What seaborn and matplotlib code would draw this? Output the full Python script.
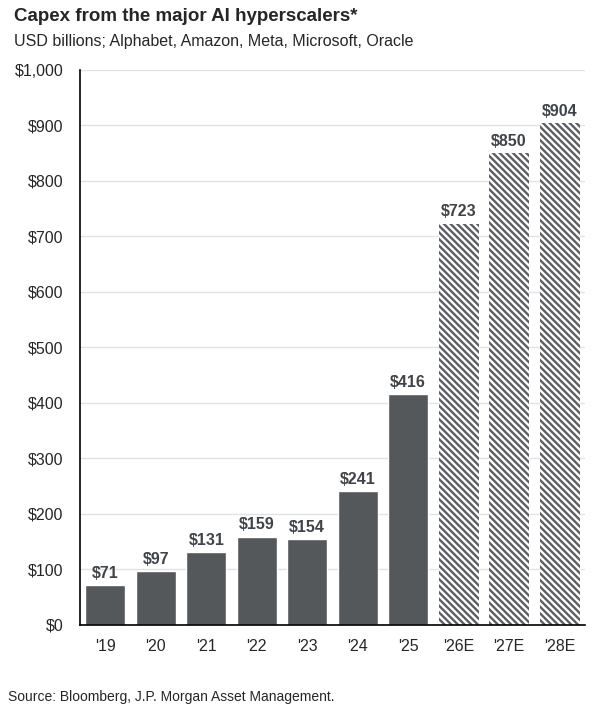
import numpy as np
import matplotlib
matplotlib.use("Agg")
import matplotlib.pyplot as plt
import seaborn as sns
import pandas as pd

years = ["'19", "'20", "'21", "'22", "'23", "'24", "'25", "'26E", "'27E", "'28E"]
capex = [71, 97, 131, 159, 154, 241, 416, 723, 850, 904]
is_estimate = [False] * 7 + [True] * 3

BAR = "#55585b"
STRIPE = "#5c5f62"

sns.set_style("white")
plt.rcParams["font.family"] = ["Liberation Sans", "DejaVu Sans"]
plt.rcParams["hatch.linewidth"] = 1.7
plt.rcParams["hatch.color"] = STRIPE

df = pd.DataFrame({"year": years, "capex": capex})

fig = plt.figure(figsize=(5.98, 7.06), dpi=100)
ax = fig.add_axes([0.134, 0.115, 0.844, 0.786])

sns.barplot(data=df, x="year", y="capex", color=BAR, width=0.79,
            saturation=1, ax=ax, zorder=2)

# estimates get the striped fill
for patch, est in zip(ax.patches, is_estimate):
    if est:
        patch.set_facecolor("white")
        patch.set_edgecolor(STRIPE)
        patch.set_linewidth(0)
        patch.set_hatch("\\\\\\\\\\")

for i, v in enumerate(capex):
    ax.text(i, v + 8, f"${v}", ha="center", va="bottom",
            fontsize=11.5, fontweight="bold", color="#404347")

ax.set_ylim(0, 1000)
ax.set_xlim(-0.5, len(years) - 0.5)
ax.set_yticks(np.arange(0, 1001, 100))
ax.set_yticklabels([f"${t:,}" for t in range(0, 1001, 100)], fontsize=11.5)
ax.yaxis.grid(True, color="#e2e2e2", linewidth=1, zorder=0)
ax.set_axisbelow(True)

ax.set_xticks(range(len(years)))
ax.set_xticklabels(years, fontsize=11.5)
ax.tick_params(axis="x", length=0, pad=10)
ax.tick_params(axis="y", length=0, pad=12)
ax.set_xticks(np.arange(-0.5, len(years) - 0.5, 1), minor=True)
ax.tick_params(axis="x", which="minor", length=6, width=1.2, color="black", direction="out")

ax.set_xlabel("")
ax.set_ylabel("")
sns.despine(ax=ax, top=True, right=True)
for s in ["left", "bottom"]:
    ax.spines[s].set_color("black")
    ax.spines[s].set_linewidth(1.2)

fig.text(0.023, 0.988, "Capex from the major AI hyperscalers*", fontsize=13.5,
         fontweight="bold", va="top", ha="left")
fig.text(0.023, 0.952, "USD billions; Alphabet, Amazon, Meta, Microsoft, Oracle",
         fontsize=11.5, va="top", ha="left")
fig.text(0.013, 0.003, "Source: Bloomberg, J.P. Morgan Asset Management.",
         fontsize=10, va="bottom", ha="left")

fig.savefig("out.png", dpi=100)
